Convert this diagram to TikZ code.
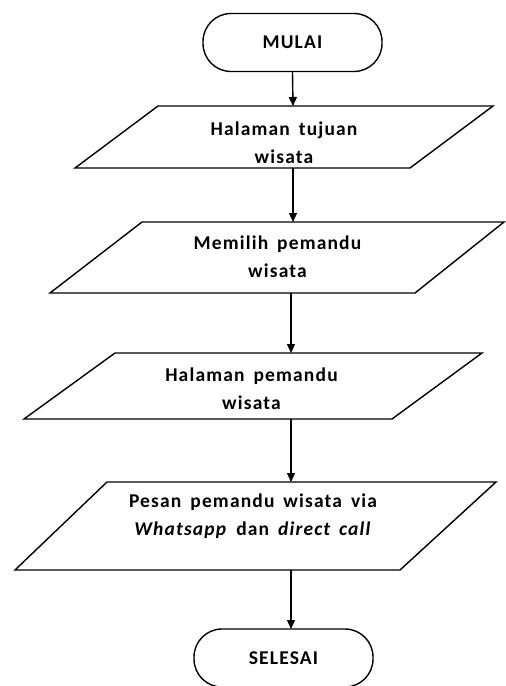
\documentclass[tikz,border=0pt]{standalone}
\usepackage{fontspec}
\setmainfont{Carlito}[LetterSpace=6,WordSpace=1.6]
\usetikzlibrary{arrows.meta}
\begin{document}
\begin{tikzpicture}[x=1pt,y=-1pt,
  every node/.style={font=\bfseries\fontsize{19.5}{28}\selectfont},
  term/.style={draw,line width=1.4pt,rounded corners=28pt,minimum width=179pt,minimum height=58pt,inner sep=0pt},
  io/.style={draw,line width=1.4pt,line join=miter},
  lbl/.style={align=center,inner sep=0pt},
  flow/.style={line width=1.4pt,-{Triangle[length=9pt,width=8pt]}}]
\useasboundingbox (0,0) rectangle (506,686);
% terminators
\node[term] (start) at (292.5,42.5) {MULAI};
\node[term] (stop) at (283.5,658) {SELESAI};
% parallelograms
\draw[io] (158,106) -- (493,106) -- (410,168) -- (75,168) -- cycle;
\draw[io] (142,222) -- (504,222) -- (415,293) -- (50,293) -- cycle;
\draw[io] (115,353) -- (482,353) -- (392,419) -- (24,419) -- cycle;
\draw[io] (107,482) -- (496,482) -- (400,570) -- (15,570) -- cycle;
% labels
\node[lbl] (p1) at (284,142.5) {Halaman tujuan\\wisata};
\node[lbl] (p2) at (277.5,257) {Memilih pemandu\\wisata};
\node[lbl] (p3) at (251.5,389) {Halaman pemandu\\wisata};
\node[lbl] (p4) at (253,516) {Pesan pemandu wisata via\\\textit{Whatsapp} dan \textit{direct call}};
% edge points
\coordinate (p1t) at (293,106); \coordinate (p1b) at (293,168);
\coordinate (p2t) at (293,222); \coordinate (p2b) at (291,293);
\coordinate (p3t) at (291,353); \coordinate (p3b) at (291,419);
\coordinate (p4t) at (291,482); \coordinate (p4b) at (291,570);
\coordinate (st) at (291,629);
% connectors
\draw[flow] (start.south) -- (p1t);
\draw[flow] (p1b) -- (p2t);
\draw[flow] (p2b) -- (p3t);
\draw[flow] (p3b) -- (p4t);
\draw[flow] (p4b) -- (st);
\end{tikzpicture}
\end{document}
